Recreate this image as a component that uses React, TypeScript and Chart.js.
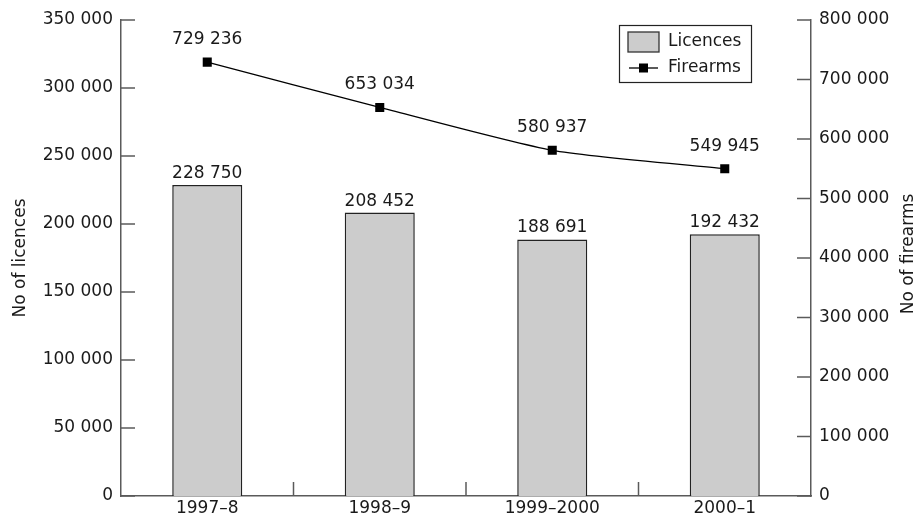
import React, { useEffect, useRef } from "react";
import { Chart, registerables } from "chart.js";

Chart.register(...registerables);

const categories = ["1997–8", "1998–9", "1999–2000", "2000–1"];
const licences = [228750, 208452, 188691, 192432];
const firearms = [729236, 653034, 580937, 549945];
const seriesNames = ["Licences", "Firearms"];
const leftTitle = "No of licences";
const rightTitle = "No of firearms";
const leftMax = 350000;
const leftStep = 50000;
const rightMax = 800000;
const rightStep = 100000;

const FONT_FAMILY = "'DejaVu Sans', sans-serif";
const FONT_SIZE = 17;
const TEXT = "#1a1a1a";
const AXIS = "#5a5a5a";

const fmt = (n: number) => String(n).replace(/\B(?=(\d{3})+(?!\d))/g, " ");

const overlay = {
  id: "overlay",
  afterDatasetsDraw(chart: any) {
    const ctx: CanvasRenderingContext2D = chart.ctx;
    const ca = chart.chartArea;
    const { x, y, y1 } = chart.scales;
    const line = (x0: number, y0: number, x1: number, yy1: number) => {
      ctx.beginPath();
      ctx.moveTo(x0, y0);
      ctx.lineTo(x1, yy1);
      ctx.stroke();
    };
    ctx.save();
    // inward tick marks
    ctx.strokeStyle = AXIS;
    ctx.lineWidth = 1.5;
    y.ticks.forEach((_t: any, i: number) => {
      const py = y.getPixelForTick(i);
      line(ca.left, py, ca.left + 14, py);
    });
    y1.ticks.forEach((_t: any, i: number) => {
      const py = y1.getPixelForTick(i);
      line(ca.right - 14, py, ca.right, py);
    });
    for (let i = 1; i < categories.length; i++) {
      const px = (x.getPixelForTick(i - 1) + x.getPixelForTick(i)) / 2;
      line(px, ca.bottom, px, ca.bottom - 14);
    }

    // data labels
    ctx.font = `${FONT_SIZE}px ${FONT_FAMILY}`;
    ctx.fillStyle = TEXT;
    ctx.textAlign = "center";
    ctx.textBaseline = "alphabetic";
    chart.getDatasetMeta(0).data.forEach((el: any, i: number) => {
      ctx.fillText(fmt(licences[i]), el.x, el.y - 7);
    });
    chart.getDatasetMeta(1).data.forEach((el: any, i: number) => {
      ctx.fillText(fmt(firearms[i]), el.x, el.y - 18);
    });

    // legend box
    const lx = ca.right - 192;
    const ly = ca.top + 5;
    const lw = 132;
    const lh = 57;
    ctx.fillStyle = "#ffffff";
    ctx.fillRect(lx, ly, lw, lh);
    ctx.strokeStyle = "#222";
    ctx.lineWidth = 1.2;
    ctx.strokeRect(lx + 0.5, ly + 0.5, lw, lh);
    // licences swatch
    ctx.fillStyle = "#cccccc";
    ctx.fillRect(lx + 9, ly + 7, 31, 20);
    ctx.strokeStyle = "#333";
    ctx.lineWidth = 1.3;
    ctx.strokeRect(lx + 9, ly + 7, 31, 20);
    // firearms line
    ctx.strokeStyle = "#000";
    ctx.lineWidth = 1.3;
    line(lx + 10, ly + 43, lx + 39, ly + 43);
    ctx.fillStyle = "#000";
    ctx.fillRect(lx + 24.5 - 4.5, ly + 43 - 4.5, 9, 9);
    ctx.fillStyle = TEXT;
    ctx.textAlign = "left";
    ctx.textBaseline = "middle";
    ctx.fillText(seriesNames[0], lx + 49, ly + 17);
    ctx.fillText(seriesNames[1], lx + 49, ly + 43);

    // axis titles (both read bottom-to-top)
    const cy = (ca.top + ca.bottom) / 2;
    ctx.textAlign = "center";
    ctx.textBaseline = "middle";
    ctx.save();
    ctx.translate(21, cy);
    ctx.rotate(-Math.PI / 2);
    ctx.fillText(leftTitle, 0, 0);
    ctx.restore();
    ctx.save();
    ctx.translate(chart.width - 9, cy - 4);
    ctx.rotate(-Math.PI / 2);
    ctx.fillText(rightTitle, 0, 0);
    ctx.restore();

    ctx.restore();
  },
};

export default function App() {
  const ref = useRef<HTMLCanvasElement | null>(null);
  useEffect(() => {
    if (!ref.current) return;
    const font = { family: FONT_FAMILY, size: FONT_SIZE };
    const chart = new Chart(ref.current, {
      type: "bar",
      data: {
        labels: categories,
        datasets: [
          {
            type: "bar",
            label: seriesNames[0],
            data: licences,
            yAxisID: "y",
            backgroundColor: "#cccccc",
            borderColor: "#222222",
            borderWidth: 1.5,
            barPercentage: 0.406,
            categoryPercentage: 1,
            order: 1,
          } as any,
          {
            type: "line",
            label: seriesNames[1],
            data: firearms,
            yAxisID: "y1",
            borderColor: "#000000",
            borderWidth: 1.3,
            backgroundColor: "#000000",
            pointStyle: "rect",
            pointRadius: 6.4,
            pointBorderWidth: 0,
            tension: 0.2,
            order: 0,
          } as any,
        ],
      },
      options: {
        animation: false,
        responsive: true,
        maintainAspectRatio: false,
        layout: { padding: { top: 20, left: 0, right: 0, bottom: 0 } },
        plugins: {
          legend: { display: false },
          tooltip: { enabled: false },
        },
        scales: {
          x: {
            type: "category",
            grid: { display: false, drawTicks: false },
            border: { display: true, color: AXIS, width: 1.5 },
            ticks: { font, color: TEXT, padding: 2, maxRotation: 0 },
            afterFit: (s: any) => {
              s.height = 22;
            },
          },
          y: {
            position: "left",
            min: 0,
            max: leftMax,
            grid: { display: false, drawTicks: false },
            border: { display: true, color: AXIS, width: 1.5 },
            ticks: {
              stepSize: leftStep,
              font,
              color: TEXT,
              padding: 8,
              callback: (v: any) => fmt(Number(v)),
            },
            afterFit: (s: any) => {
              s.width = 121;
            },
          },
          y1: {
            position: "right",
            min: 0,
            max: rightMax,
            grid: { display: false, drawTicks: false },
            border: { display: true, color: AXIS, width: 1.5 },
            ticks: {
              stepSize: rightStep,
              font,
              color: TEXT,
              padding: 8,
              callback: (v: any) => fmt(Number(v)),
            },
            afterFit: (s: any) => {
              s.width = 107;
            },
          },
        },
      } as any,
      plugins: [overlay],
    });
    return () => chart.destroy();
  }, []);
  return (
    <div style={{ position: "absolute", left: 0, top: 0, width: 918, height: 518, background: "#fff" }}>
      <canvas ref={ref} />
    </div>
  );
}
